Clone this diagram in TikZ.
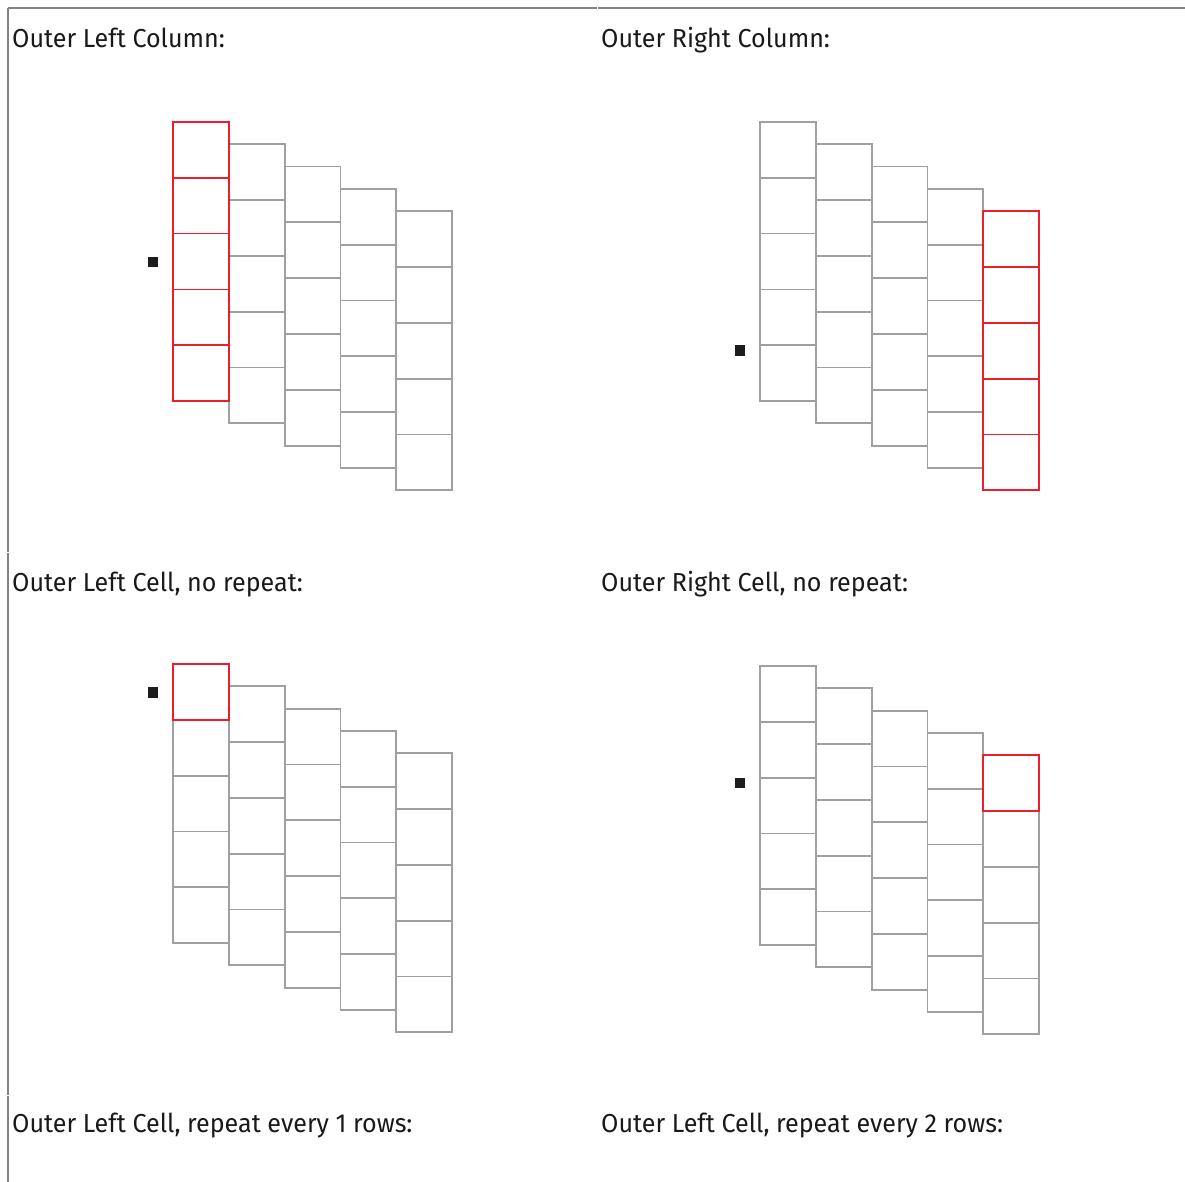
\documentclass[tikz,border=0pt]{standalone}
\usepackage{fontspec}
\setmainfont[FakeStretch=0.965]{Fira Sans}
\usepackage{xcolor}
\usepackage{tikz}

\definecolor{gridgray}{RGB}{160,160,162}
\definecolor{pickred}{RGB}{234,30,44}
\definecolor{rulegray}{RGB}{130,130,130}
\definecolor{markblack}{RGB}{28,28,30}

\tikzset{
  title/.style={anchor=base west, inner sep=0pt, text=black!90,
    font=\fontsize{26}{30}\selectfont},
  marker/.style={fill=markblack, minimum size=10.5pt, inner sep=0pt},
  cellline/.style={draw=gridgray, line width=1.8pt},
  pickline/.style={draw=pickred, line width=1.8pt},
  rule/.style={draw=rulegray, line width=1.4pt}
}

% staggered grid: #1,#2 = top left corner of the first column
\newcommand{\stairgrid}[2]{%
  \foreach \c in {0,...,4}
    \foreach \r in {0,...,4}
      \draw[cellline] ({#1+\c*55.8},{#2+\c*22.3+\r*55.8}) rectangle ++(55.8,55.8);
}
% highlighted cell: #1,#2 = grid corner, #3 = column, #4 = row
\newcommand{\pickcell}[4]{%
  \draw[pickline] ({#1+#3*55.8},{#2+#3*22.3+#4*55.8}) rectangle ++(55.8,55.8);
}

\begin{document}
\begin{tikzpicture}[x=1pt, y=-1pt]

    \useasboundingbox (0,0) rectangle (1185,1182);

    % table rules
    \draw[rule] (8,8) -- (596.5,8);
    \draw[rule] (597.5,8) -- (1185,8);
    \draw[rule] (8,8) -- (8,551.5);
    \draw[rule] (8,552.5) -- (8,1094.5);
    \draw[rule] (8,1095.5) -- (8,1182);

    % titles
    \node[title] (t1) at (12,48) {Outer Left Column:};
    \node[title] (t2) at (601,48) {Outer Right Column:};
    \node[title] (t3) at (12,591) {Outer Left Cell, no repeat:};
    \node[title] (t4) at (601,591) {Outer Right Cell, no repeat:};
    \node[title] (t5) at (12,1132) {Outer Left Cell, repeat every 1 rows:};
    \node[title] (t6) at (601,1132) {Outer Left Cell, repeat every 2 rows:};

    % outer left column
    \stairgrid{173}{122}
    \foreach \r in {0,...,4} {\pickcell{173}{122}{0}{\r}}
    \node[marker] (m1) at (153,262) {};

    % outer right column
    \stairgrid{760}{122}
    \foreach \r in {0,...,4} {\pickcell{760}{122}{4}{\r}}
    \node[marker] (m2) at (740,350.5) {};

    % outer left cell
    \stairgrid{173}{664}
    \pickcell{173}{664}{0}{0}
    \node[marker] (m3) at (153,692.5) {};

    % outer right cell
    \stairgrid{760}{666}
    \pickcell{760}{666}{4}{0}
    \node[marker] (m4) at (740,783) {};

\end{tikzpicture}
\end{document}
